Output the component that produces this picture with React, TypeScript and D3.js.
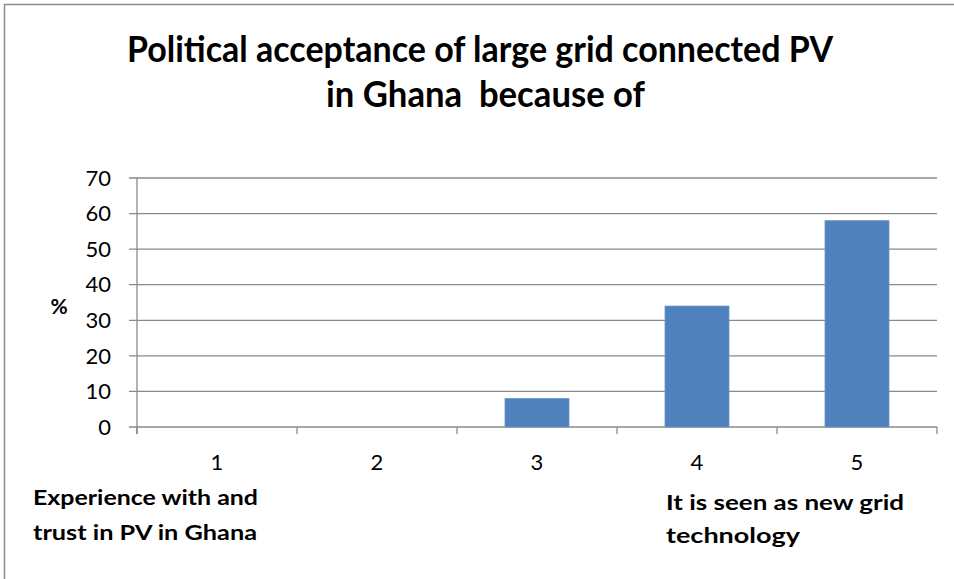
import React from "react";
import * as d3 from "d3";

const categories = ["1", "2", "3", "4", "5"];
const values = [0, 0, 8, 34, 58];
const yTicks = [0, 10, 20, 30, 40, 50, 60, 70];
const titleLines = ["Political acceptance of large grid connected PV", "in Ghana  because of"];
const leftNote = ["Experience with and", "trust in PV in Ghana"];
const rightNote = ["It is seen as new grid", "technology"];

const W = 954;
const H = 579;
const plot = { left: 137, right: 937, top: 178, bottom: 427 };
const FONT = "Lato, 'Open Sans', sans-serif";

export default function App() {
  const x = d3.scaleBand().domain(categories).range([plot.left, plot.right]).paddingInner(0.6).paddingOuter(0.3);
  const xCat = d3.scaleBand().domain(categories).range([plot.left, plot.right]);
  const y = d3.scaleLinear().domain([0, 70]).range([plot.bottom, plot.top]);
  const grid = "#8a8a8a";
  const keepSpaces = (s: string) => s.replace(/ {2}/g, "\u00A0 ");

  return (
    <svg width={W} height={H} style={{ position: "absolute", left: 0, top: 0, background: "#fff" }}>
      <rect x={4.5} y={4.5} width={W + 10} height={H + 10} fill="#fff" stroke="#8c8c8c" strokeWidth={1.5} />
      <g fontFamily={FONT} fontWeight="bold" fill="#000" textAnchor="middle">
        <text x={480} y={62} fontSize={36} textLength={706} lengthAdjust="spacingAndGlyphs">{keepSpaces(titleLines[0])}</text>
        <text x={485.5} y={107} fontSize={36} textLength={319} lengthAdjust="spacingAndGlyphs">{keepSpaces(titleLines[1])}</text>
      </g>
      {yTicks.map((t) => (
        <g key={t}>
          <line x1={plot.left - 8} x2={plot.right} y1={y(t)} y2={y(t)} stroke={grid} strokeWidth={1.3} />
          <text x={111} y={y(t)} dy="0.35em" textAnchor="end" fontFamily={FONT} fontSize={22} fill="#000">{t}</text>
        </g>
      ))}
      <line x1={plot.left} x2={plot.left} y1={plot.top} y2={plot.bottom + 7} stroke={grid} strokeWidth={1.3} />
      {d3.range(categories.length + 1).map((i) => {
        const xx = plot.left + i * xCat.step();
        return <line key={i} x1={xx} x2={xx} y1={plot.bottom} y2={plot.bottom + 7} stroke={grid} strokeWidth={1.3} />;
      })}
      {categories.map((c, i) => (
        values[i] > 0 ? (
          <rect key={c} x={x(c)} y={y(values[i])} width={x.bandwidth()} height={y(0) - y(values[i])} fill="#4F81BD" stroke="#6b95c9" strokeWidth={0.8} />
        ) : null
      ))}
      {categories.map((c) => (
        <text key={c} x={(xCat(c) as number) + xCat.bandwidth() / 2} y={470} textAnchor="middle" fontFamily={FONT} fontSize={22} fill="#000">{c}</text>
      ))}
      <text x={59} y={307} dy="0.35em" textAnchor="middle" fontFamily={FONT} fontWeight="bold" fontSize={21} fill="#000">%</text>
      <g fontFamily={FONT} fontWeight="bold" fontSize={21} fill="#000">
        <text x={33} y={505} textLength={225} lengthAdjust="spacingAndGlyphs">{leftNote[0]}</text>
        <text x={33} y={540} textLength={224} lengthAdjust="spacingAndGlyphs">{leftNote[1]}</text>
        <text x={666} y={510} textLength={238} lengthAdjust="spacingAndGlyphs">{rightNote[0]}</text>
        <text x={666} y={543} textLength={134} lengthAdjust="spacingAndGlyphs">{rightNote[1]}</text>
      </g>
    </svg>
  );
}
